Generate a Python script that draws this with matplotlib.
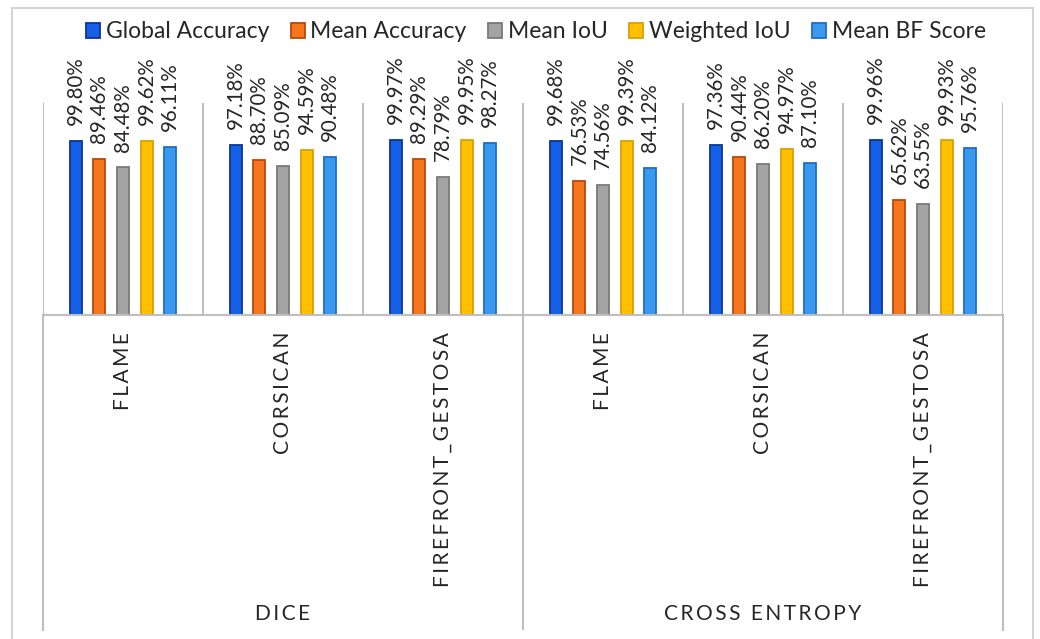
# Segmentation scores per dataset, grouped by training loss (DICE / CROSS ENTROPY)

import numpy as np
import matplotlib.pyplot as plt
from matplotlib.patches import Patch, Rectangle

plt.rcParams['font.family'] = ['Lato', 'DejaVu Sans']

losses = ["DICE", "CROSS ENTROPY"]
datasets = ["FLAME", "CORSICAN", "FIREFRONT_GESTOSA"]
metrics = ["Global Accuracy", "Mean Accuracy", "Mean IoU", "Weighted IoU", "Mean BF Score"]

# one list per metric, 6 entries: DICE x 3 datasets, then CROSS ENTROPY x 3 datasets
global_acc = [99.80, 97.18, 99.97, 99.68, 97.36, 99.96]
mean_acc = [89.46, 88.70, 89.29, 76.53, 90.44, 65.62]
mean_iou = [84.48, 85.09, 78.79, 74.56, 86.20, 63.55]
weighted_iou = [99.62, 94.59, 99.95, 99.39, 94.97, 99.93]
mean_bf = [96.11, 90.48, 98.27, 84.12, 87.10, 95.76]

series = [global_acc, mean_acc, mean_iou, weighted_iou, mean_bf]
face_colors = ["#1560e6", "#f5761f", "#a3a3a3", "#ffc000", "#3a98ef"]
edge_colors = ["#0a3596", "#b8480c", "#7a7a7a", "#d9a000", "#1c6fc4"]
line_col = "#bfbfbf"
text_col = "#262626"

W, H = 1040, 639
fig = plt.figure(figsize=(W / 100, H / 100), dpi=100)

def fx(px):
    return px / W

def fy(py):
    return 1 - py / H

x_left, x_right = 43, 1003
y_top, y_base, y_bottom = 103, 315, 630

# outer chart border
fig.add_artist(Rectangle((fx(12), fy(660)), fx(1033) - fx(12), fy(8) - fy(660),
                         transform=fig.transFigure, fill=False, edgecolor="#d4d4d4", lw=1.5))

ax = fig.add_axes([fx(x_left), fy(y_base), fx(x_right) - fx(x_left), fy(y_top) - fy(y_base)])
n_groups = len(losses) * len(datasets)
x = np.arange(n_groups)
step = 0.147
width = 0.075

for i, vals in enumerate(series):
    pos = x + (i - 2) * step
    ax.bar(pos, vals, width=width, color=face_colors[i], edgecolor=edge_colors[i],
           linewidth=1.3, zorder=3)
    for p, v in zip(pos, vals):
        ax.annotate(f"{v:.2f}%", (p, v), xytext=(0, 11.5), textcoords="offset points",
                    rotation=90, ha="center", va="bottom", fontsize=14.8, color=text_col)

ax.set_xlim(-0.5, n_groups - 0.5)
ax.set_ylim(0, 121.4)
for s in ["top", "bottom", "left", "right"]:
    ax.spines[s].set_visible(False)
ax.set_xticks([])
ax.set_yticks([])
ax.patch.set_alpha(0)
for k in range(n_groups + 1):
    ax.axvline(k - 0.5, color=line_col, lw=1.5, zorder=1)

# lower band with category labels
lo = fig.add_axes([fx(x_left), fy(y_bottom), fx(x_right) - fx(x_left), fy(y_base) - fy(y_bottom)])
lo.set_xlim(-0.5, n_groups - 0.5)
lo.set_ylim(0, 1)
lo.set_xticks([])
lo.set_yticks([])
lo.patch.set_alpha(0)
lo.spines["bottom"].set_visible(False)
for s in ["top", "left", "right"]:
    lo.spines[s].set_color(line_col)
    lo.spines[s].set_linewidth(1.5)
lo.axvline(len(datasets) - 0.5, color=line_col, lw=1.5)

def spaced(s):
    return "\u200a\u200a".join(s)

band = y_bottom - y_base
for g in range(n_groups):
    lo.text(g, 1 - 17 / band, spaced(datasets[g % len(datasets)]),
            rotation=90, ha="center", va="top", fontsize=15, color=text_col)
for j, name in enumerate(losses):
    lo.text(j * len(datasets) + 1, 1 - (614 - y_base) / band, spaced(name),
            ha="center", va="center", fontsize=15, color=text_col)

handles = [Patch(facecolor=face_colors[i], edgecolor=edge_colors[i], lw=1.3) for i in range(len(metrics))]
fig.legend(handles, metrics, loc="center", bbox_to_anchor=(fx(536), fy(32)), ncol=5,
           frameon=False, fontsize=16.5, handlelength=0.6, handleheight=0.6,
           handletextpad=0.25, columnspacing=0.95, labelcolor=text_col)

fig.savefig("out.png", dpi=100)
